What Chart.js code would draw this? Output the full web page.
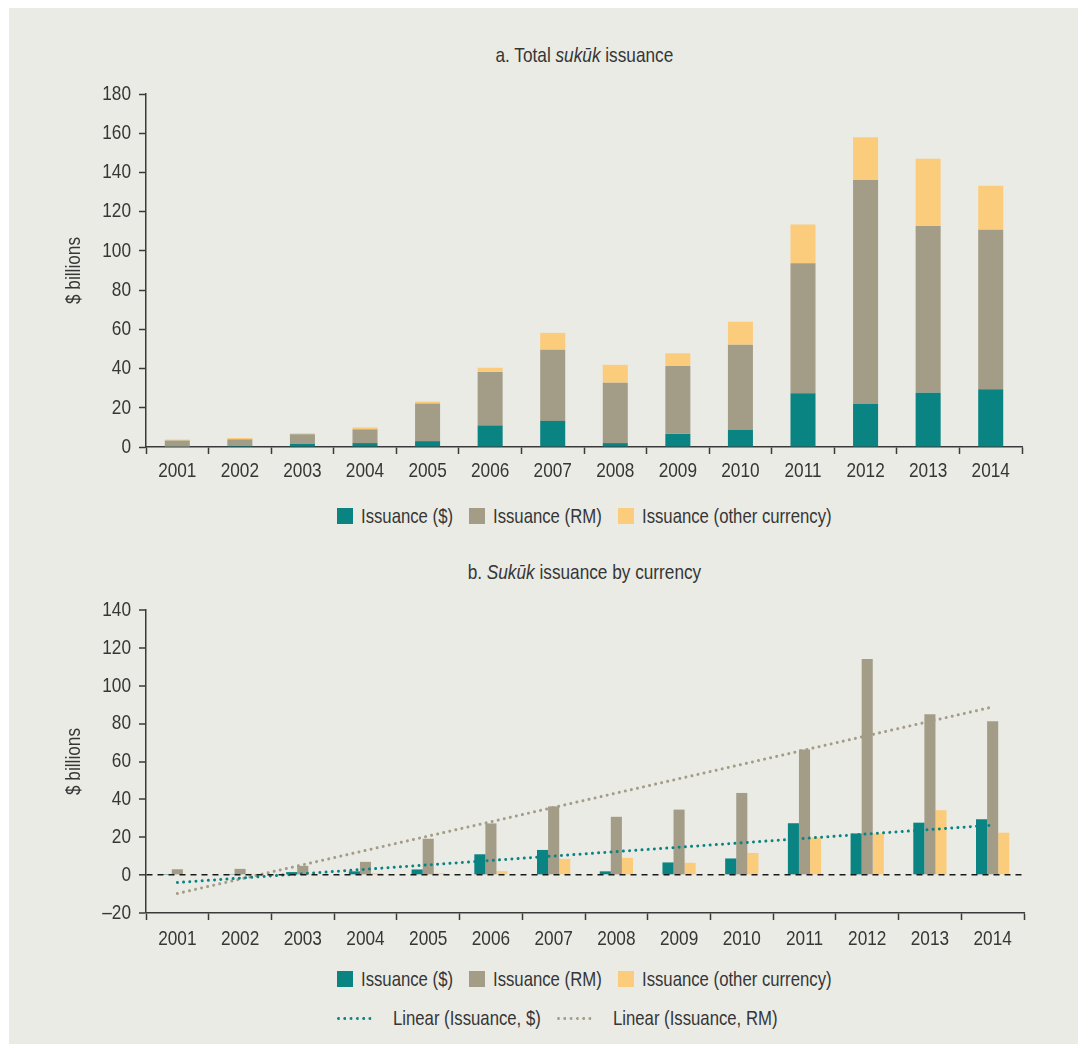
<!DOCTYPE html>
<html><head><meta charset="utf-8">
<script src="https://cdn.jsdelivr.net/npm/chart.js@4"></script>
<style>
body{margin:0;background:#fff;width:1078px;height:1044px;position:relative;overflow:hidden;font-family:'Liberation Sans',Arial,sans-serif;color:#363636;}
#panel{position:absolute;left:9px;top:8px;width:1069px;height:1036px;background:#EAEBE5;}
.title{position:absolute;left:146px;width:876px;text-align:center;font-size:21px;line-height:24px;}
.title span{display:inline-block;transform:scaleX(0.82);white-space:nowrap}
canvas{position:absolute;left:0;}
.legend{position:absolute;left:337px;font-size:20.4px;line-height:24px;}
.row{display:flex;align-items:center;height:24px;white-space:nowrap}
.item{display:flex;align-items:center;margin-right:16px}
.box{width:16px;height:16px;margin-right:8px;flex:none}
.dots{width:35px;height:3px;margin-right:21px;flex:none;background-size:6.3px 3px;background-repeat:repeat-x}
.txt{display:inline-block;overflow:visible;flex:none}
.txt span{display:inline-block;transform:scaleX(0.82);transform-origin:0 50%;white-space:nowrap}
</style></head>
<body>
<div id="panel"></div>
<div class="title" style="top:43px"><span>a. Total <i>sukūk</i> issuance</span></div>
<canvas id="c1" width="1078" height="500" style="top:0"></canvas>
<div class="legend" id="leg1" style="top:504px"></div>
<div class="title" style="top:560px"><span>b. <i>Sukūk</i> issuance by currency</span></div>
<canvas id="c2" width="1078" height="440" style="top:520px"></canvas>
<div class="legend" id="leg2" style="top:967px"></div>
<script>
// ---- data (US$ billions) ----
const years = ['2001','2002','2003','2004','2005','2006','2007','2008','2009','2010','2011','2012','2013','2014'];
const issuanceUSD   = [0.2, 0.6, 1.6, 2.0, 3.0, 11.0, 13.3, 2.0, 6.7, 8.8, 27.4, 22.0, 27.7, 29.5];
const issuanceRM    = [3.1, 3.3, 4.9, 7.0, 19.2, 27.3, 36.3, 30.8, 34.6, 43.4, 66.3, 114.1, 85.0, 81.3];
const issuanceOther = [0.5, 0.7, 0.5, 1.0, 1.0, 2.1, 8.6, 9.1, 6.5, 11.7, 19.8, 21.9, 34.3, 22.4];
// trend lines: end points (straight lines between them)
const trendUSD = [-3.9, null, null, null, null, null, null, null, null, null, null, null, null, 26.4];
const trendRM  = [-9.7, null, null, null, null, null, null, null, null, null, null, null, null, 88.8];
const yTicksA = [0, 20, 40, 60, 80, 100, 120, 140, 160, 180];
const yTicksB = [-20, 0, 20, 40, 60, 80, 100, 120, 140];

const TEAL = '#0A8383', GRAY = '#A39D88', ORANGE = '#FBCC7C', AX = '#3a3a3a';
const NARROW = 0.82;
Chart.defaults.font.family = "'Liberation Sans', Arial, sans-serif";
Chart.defaults.font.size = 21;
Chart.defaults.color = '#363636';

// condensed text rendering on the canvases (narrow sans look)
function condense(canvas, k) {
  const ctx = canvas.getContext('2d');
  const orig = ctx.fillText;
  ctx.fillText = function (t, x, y, mw) {
    this.save(); this.translate(x, y); this.scale(k, 1);
    if (mw === undefined) orig.call(this, t, 0, 0); else orig.call(this, t, 0, 0, mw / k);
    this.restore();
  };
}
const cv1 = document.getElementById('c1'), cv2 = document.getElementById('c2');
condense(cv1, NARROW); condense(cv2, NARROW);

const fmt = v => v < 0 ? '\u2013' + Math.abs(v) : String(v);

const c1 = new Chart(cv1, {
  type: 'bar',
  data: { labels: years, datasets: [
    { label: 'Issuance ($)', data: issuanceUSD, backgroundColor: TEAL },
    { label: 'Issuance (RM)', data: issuanceRM, backgroundColor: GRAY },
    { label: 'Issuance (other currency)', data: issuanceOther, backgroundColor: ORANGE }
  ]},
  options: {
    responsive: false, animation: false,
    layout: { padding: { left: 0, right: 56, top: 94, bottom: 0 } },
    plugins: { legend: { display: false }, tooltip: { enabled: false } },
    datasets: { bar: { barPercentage: 0.4, categoryPercentage: 1 } },
    scales: {
      x: { stacked: true,
        grid: { drawOnChartArea: false, drawTicks: true, tickLength: 7, tickColor: AX, tickWidth: 1.5, offset: true },
        border: { color: AX, width: 1.5 },
        ticks: { padding: 5, maxRotation: 0, autoSkip: false },
        afterFit: s => { s.height = 53; } },
      y: { stacked: true, min: 0, max: 180,
        afterBuildTicks: s => { s.ticks = yTicksA.map(v => ({ value: v })); },
        grid: { drawOnChartArea: false, tickLength: 7, tickColor: AX, tickWidth: 1.5 },
        border: { color: AX, width: 1.5 },
        ticks: { padding: 8, callback: v => fmt(v) },
        title: { display: true, text: '$ billions', padding: { top: 62, bottom: 0 } },
        afterFit: s => { s.width = 146; } }
    }
  }
});

const c2 = new Chart(cv2, {
  type: 'bar',
  data: { labels: years, datasets: [
    { label: 'Issuance ($)', data: issuanceUSD, backgroundColor: TEAL, order: 2 },
    { label: 'Issuance (RM)', data: issuanceRM, backgroundColor: GRAY, order: 2 },
    { label: 'Issuance (other currency)', data: issuanceOther, backgroundColor: ORANGE, order: 2 },
    { type: 'line', label: 'Linear (Issuance, $)', data: trendUSD, borderColor: TEAL, borderWidth: 3,
      borderDash: [0.01, 6.2], borderCapStyle: 'round', pointRadius: 0, spanGaps: true, fill: false, order: 0 },
    { type: 'line', label: 'Linear (Issuance, RM)', data: trendRM, borderColor: GRAY, borderWidth: 3,
      borderDash: [0.01, 6.2], borderCapStyle: 'round', pointRadius: 0, spanGaps: true, fill: false, order: 0 }
  ]},
  options: {
    responsive: false, animation: false,
    layout: { padding: { left: 0, right: 54, top: 90, bottom: 0 } },
    plugins: { legend: { display: false }, tooltip: { enabled: false } },
    datasets: { bar: { barPercentage: 1, categoryPercentage: 0.53 } },
    scales: {
      x: {
        grid: { drawOnChartArea: false, drawTicks: true, tickLength: 7, tickColor: AX, tickWidth: 1.5, offset: true },
        border: { color: AX, width: 1.5 },
        ticks: { padding: 7, maxRotation: 0, autoSkip: false },
        afterFit: s => { s.height = 47; } },
      y: { min: -20, max: 140,
        afterBuildTicks: s => { s.ticks = yTicksB.map(v => ({ value: v })); },
        grid: { drawOnChartArea: true, z: 1,
          color: ctx => (ctx.tick && ctx.tick.value === 0) ? '#1a1a1a' : 'rgba(0,0,0,0)',
          lineWidth: ctx => (ctx.tick && ctx.tick.value === 0) ? 1.6 : 0,
          tickLength: 7, tickColor: AX, tickWidth: 1.5 },
        border: { color: AX, width: 1.5, dash: [6, 5], z: 1 },
        ticks: { padding: 8, callback: v => fmt(v) },
        title: { display: true, text: '$ billions', padding: { top: 62, bottom: 0 } },
        afterFit: s => { s.width = 146; } }
    }
  }
});

// HTML legends built from the charts' datasets
function buildLegend(chart, el, rows) {
  el.innerHTML = '';
  rows.forEach((idxs, r) => {
    const row = document.createElement('div');
    row.className = 'row';
    if (r > 0) row.style.marginTop = '15px';
    idxs.forEach(i => {
      const ds = chart.data.datasets[i];
      const it = document.createElement('div'); it.className = 'item';
      const mk = document.createElement('span');
      if (ds.type === 'line') {
        mk.className = 'dots';
        mk.style.backgroundImage = 'radial-gradient(circle at 1.5px 1.5px, ' + ds.borderColor + ' 1.2px, transparent 1.6px)';
      } else { mk.className = 'box'; mk.style.background = ds.backgroundColor; }
      const tx = document.createElement('span'); tx.className = 'txt';
      const inner = document.createElement('span'); inner.textContent = ds.label;
      tx.appendChild(inner);
      it.appendChild(mk); it.appendChild(tx); row.appendChild(it);
    });
    el.appendChild(row);
  });
  el.querySelectorAll('.txt').forEach(tx => {
    const w = tx.firstChild.getBoundingClientRect().width; // already scaled width
    tx.style.width = w + 'px';
  });
}
buildLegend(c1, document.getElementById('leg1'), [[0, 1, 2]]);
buildLegend(c2, document.getElementById('leg2'), [[0, 1, 2], [3, 4]]);
</script>
</body></html>
